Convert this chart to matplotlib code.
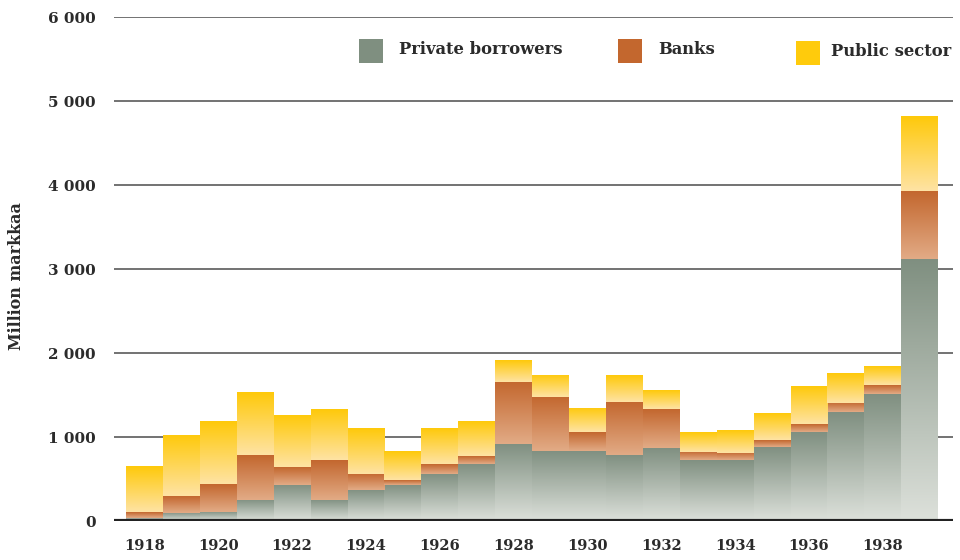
import numpy as np
import matplotlib
matplotlib.use("Agg")
import matplotlib.pyplot as plt
from matplotlib.colors import LinearSegmentedColormap
from matplotlib.patches import Rectangle

years = list(range(1918, 1940))
private = [44, 100, 112, 255, 433, 255, 373, 433, 564, 683, 921, 837, 837, 790, 873, 730, 730, 885, 1063, 1301, 1516, 3122]
banks = [68, 202, 333, 535, 214, 475, 191, 59, 119, 95, 741, 643, 226, 637, 464, 96, 84, 83, 95, 108, 107, 809]
public = [547, 727, 749, 749, 618, 607, 547, 345, 428, 416, 258, 262, 286, 315, 226, 237, 273, 321, 452, 357, 226, 891]

series_names = ["Private borrowers", "Banks", "Public sector"]
x_ticks = [1918, 1920, 1922, 1924, 1926, 1928, 1930, 1932, 1934, 1936, 1938]
y_ticks = [0, 1000, 2000, 3000, 4000, 5000, 6000]
y_tick_labels = ["0", "1 000", "2 000", "3 000", "4 000", "5 000", "6 000"]

# (top colour, bottom colour) of each gradient
grad_colors = [("#7f8f80", "#dde1db"), ("#c3672e", "#e2ab86"), ("#ffc90a", "#fee3a4")]
legend_colors = ["#7f8f80", "#c3672e", "#ffcb0c"]

plt.rcParams['font.family'] = ['DejaVu Serif']
text_color = "#2b2b2b"

fig = plt.figure(figsize=(9.6, 5.6), dpi=100)
ax = fig.add_axes([114/960, 1 - 521.4/560, (953-114)/960, (521.4-17.3)/560])

grad = np.linspace(0, 1, 256).reshape(-1, 1)
bottom = np.zeros(len(years))
for vals, (ctop, cbot) in zip([private, banks, public], grad_colors):
    cmap = LinearSegmentedColormap.from_list("g", [cbot, ctop])
    vals = np.array(vals, dtype=float)
    bars = ax.bar(years, vals, bottom=bottom, width=1.0, facecolor="none",
                  edgecolor="none", zorder=3)
    for b in bars:
        x0, y0 = b.get_x(), b.get_y()
        w, h = b.get_width(), b.get_height()
        im = ax.imshow(grad, extent=(x0, x0 + w, y0, y0 + h), origin="lower",
                       cmap=cmap, aspect="auto", zorder=2, interpolation="bilinear")
        im.set_clip_path(b)
    bottom = bottom + vals

ax.set_xlim(1917.5 - 0.325, 1939.5 + 0.4)
ax.set_ylim(0, 6000)
ax.set_yticks(y_ticks)
ax.set_yticklabels(y_tick_labels)
ax.set_xticks(x_ticks)
ax.set_xticklabels([str(y) for y in x_ticks])

for v in y_ticks[1:]:
    ax.axhline(v, color="#5a5a5a", linewidth=1.2, zorder=1)
ax.axhline(0, color="#222222", linewidth=3, zorder=4)

for s in ax.spines.values():
    s.set_visible(False)
ax.tick_params(axis="both", length=0, labelsize=10.5, colors=text_color)
ax.tick_params(axis="y", pad=13, labelsize=11)
ax.tick_params(axis="x", pad=13)
for lab in ax.get_xticklabels() + ax.get_yticklabels():
    lab.set_fontweight("bold")

fig.text(17/960, 1 - 276/560, "Million markkaa", rotation=90, ha="center", va="center",
         fontsize=11.5, fontweight="bold", color=text_color)

# legend
leg_boxes = [(359, 39), (618, 39), (796, 41)]
leg_text_x = [399, 658, 831]
for (lx, ly), tx, name, col in zip(leg_boxes, leg_text_x, series_names, legend_colors):
    fig.add_artist(Rectangle((lx/960, 1 - (ly+24)/560), 24/960, 24/560,
                             transform=fig.transFigure, facecolor=col, edgecolor="none"))
    fig.text(tx/960, 1 - (ly+11)/560, name, ha="left", va="center", fontsize=11.8,
             fontweight="bold", color=text_color)

fig.savefig("out.png", dpi=100)
